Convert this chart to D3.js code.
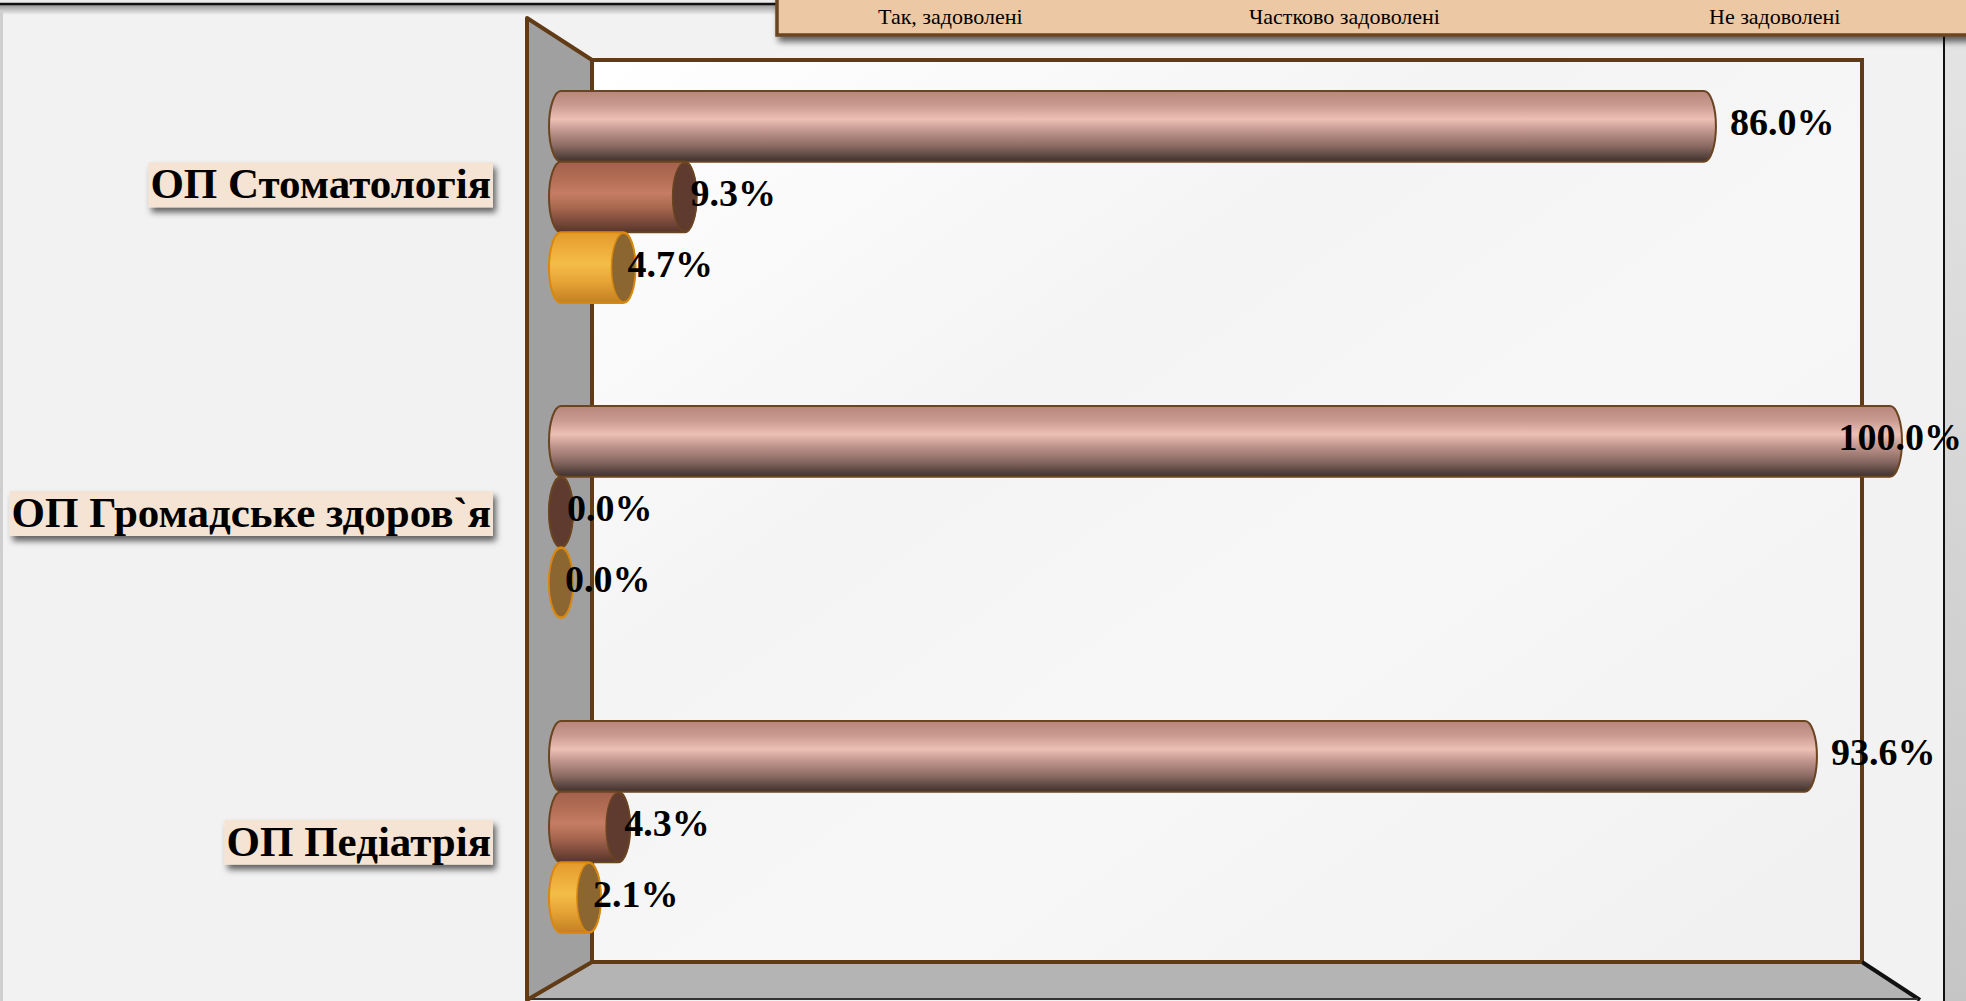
<!DOCTYPE html>
<html>
<head>
<meta charset="utf-8">
<script src="https://cdn.jsdelivr.net/npm/d3@7"></script>
<style>
  body { margin: 0; background: #f2f2f2; overflow: hidden; }
</style>
</head>
<body>
<div id="chart"></div>
<script>
// data
const categories = ["ОП Стоматологія", "ОП Громадське здоров`я", "ОП Педіатрія"];
const seriesNames = ["Так, задоволені", "Частково задоволені", "Не задоволені"];
const satisfied = [86.0, 100.0, 93.6];
const partly = [9.3, 0.0, 4.3];
const notSatisfied = [4.7, 0.0, 2.1];

const rows = categories.map((c, i) => ({cat: c, values: [satisfied[i], partly[i], notSatisfied[i]]}));

// constants
const width = 1966;
const height = 1001;
const font = "'Liberation Serif', 'Times New Roman', serif";

const svg = d3.select("#chart").append("svg")
  .attr("width", width)
  .attr("height", height);

const defs = svg.append("defs");

// cylinder gradients (top -> bottom)
const gradStops = [
  [["0%", "#b7867c"], ["20%", "#c89a90"], ["40%", "#edc0b5"], ["55%", "#c49990"], ["78%", "#8a6a63"], ["100%", "#3f302c"]],
  [["0%", "#a2604c"], ["25%", "#b46e57"], ["45%", "#c57d64"], ["65%", "#a8674f"], ["85%", "#7a4a3b"], ["100%", "#55352b"]],
  [["0%", "#e39a2c"], ["25%", "#eeae3a"], ["45%", "#f4bd48"], ["70%", "#e6a436"], ["100%", "#c27f22"]]
];
gradStops.forEach((stops, i) => {
  const g = defs.append("linearGradient").attr("id", "cyl" + i)
    .attr("x1", 0).attr("y1", 0).attr("x2", 0).attr("y2", 1);
  stops.forEach(s => g.append("stop").attr("offset", s[0]).attr("stop-color", s[1]));
});
const faceFill = [null, "#5e3a2f", "#8c6631"];
const strokeCol = ["#6b4420", "#6b4420", "#d8880f"];

const wallGrad = defs.append("linearGradient").attr("id", "wall")
  .attr("x1", 0).attr("y1", 0).attr("x2", 1).attr("y2", 1);
wallGrad.append("stop").attr("offset", "0%").attr("stop-color", "#ffffff");
wallGrad.append("stop").attr("offset", "35%").attr("stop-color", "#f4f4f4");
wallGrad.append("stop").attr("offset", "60%").attr("stop-color", "#f7f7f7");
wallGrad.append("stop").attr("offset", "100%").attr("stop-color", "#f0f0f0");

const rightGrad = defs.append("linearGradient").attr("id", "rightPanel")
  .attr("x1", 0).attr("y1", 0).attr("x2", 0).attr("y2", 1);
rightGrad.append("stop").attr("offset", "0%").attr("stop-color", "#e4e4e4");
rightGrad.append("stop").attr("offset", "100%").attr("stop-color", "#c4c4c4");

const topShadow = defs.append("linearGradient").attr("id", "topShadow")
  .attr("x1", 0).attr("y1", 0).attr("x2", 0).attr("y2", 1);
topShadow.append("stop").attr("offset", "0%").attr("stop-color", "#9a9a9a");
topShadow.append("stop").attr("offset", "100%").attr("stop-color", "#f2f2f2");

const shadow = defs.append("filter").attr("id", "shadow")
  .attr("x", "-10%").attr("y", "-30%").attr("width", "130%").attr("height", "180%");
shadow.append("feDropShadow").attr("dx", 3).attr("dy", 5).attr("stdDeviation", 3)
  .attr("flood-color", "#000").attr("flood-opacity", 0.6);

// slide background pieces
svg.append("rect").attr("width", width).attr("height", height).attr("fill", "#f2f2f2");
svg.append("rect").attr("x", 0).attr("y", 0).attr("width", 780).attr("height", 3).attr("fill", "#ececec");
svg.append("rect").attr("x", 0).attr("y", 5).attr("width", 780).attr("height", 10).attr("fill", "url(#topShadow)");
svg.append("line").attr("x1", 0).attr("x2", 780).attr("y1", 4).attr("y2", 4)
  .attr("stroke", "#111").attr("stroke-width", 2.5);
svg.append("rect").attr("x", 0).attr("y", 12).attr("width", 3).attr("height", height).attr("fill", "#cfcfcf");
svg.append("rect").attr("x", 1945).attr("y", 35).attr("width", 21).attr("height", height).attr("fill", "url(#rightPanel)");
svg.append("line").attr("x1", 1944).attr("x2", 1944).attr("y1", 35).attr("y2", height)
  .attr("stroke", "#111").attr("stroke-width", 2);

// title / legend box (cut by the top edge)
svg.append("rect").attr("x", 777).attr("y", -40).attr("width", 1240).attr("height", 75)
  .attr("fill", "#ecc8a5").attr("stroke", "#6b4420").attr("stroke-width", 3.5)
  .attr("filter", "url(#shadow)");
const legendX = [878, 1249, 1709];
svg.selectAll(".legend").data(seriesNames).enter().append("text")
  .attr("x", (d, i) => legendX[i]).attr("y", 24)
  .attr("font-family", font).attr("font-size", 22)
  .text(d => d);

// 3D frame
const wallL = 592, wallR = 1862, wallT = 60, wallB = 962;
const sideX = 527, sideT = 18, sideB = 1000;
const brown = "#603b16";

svg.append("rect").attr("x", wallL).attr("y", wallT).attr("width", wallR - wallL).attr("height", wallB - wallT)
  .attr("fill", "url(#wall)").attr("stroke", brown).attr("stroke-width", 4);
svg.append("polygon")
  .attr("points", [[wallL, wallB], [wallR, wallB], [1918, sideB], [sideX, sideB]].join(" "))
  .attr("fill", "#b4b4b4");
svg.append("line").attr("x1", wallR).attr("y1", wallB).attr("x2", 1920).attr("y2", sideB)
  .attr("stroke", "#111").attr("stroke-width", 4);
svg.append("line").attr("x1", wallL).attr("y1", wallB).attr("x2", wallR).attr("y2", wallB)
  .attr("stroke", brown).attr("stroke-width", 4);
svg.append("line").attr("x1", sideX).attr("y1", sideB - 1).attr("x2", 1918).attr("y2", sideB - 1)
  .attr("stroke", "#333").attr("stroke-width", 2);
svg.append("polygon")
  .attr("points", [[sideX, sideT], [wallL, wallT], [wallL, wallB], [sideX, sideB]].join(" "))
  .attr("fill", "#a0a0a0").attr("stroke", brown).attr("stroke-width", 4).attr("stroke-linejoin", "round");

// scales
const x = d3.scaleLinear().domain([0, 100]).range([561, 1890]);
const yGroup = d3.scaleBand().domain(categories).range([39.5, 984.5]);
const ySeries = d3.scaleBand().domain([0, 1, 2]).range([0, 212]);
const yLabel = d3.scaleBand().domain(categories).range([20, 1006]);
const groupOff = (yGroup.bandwidth() - 212) / 2;
const rx = 12;

// bars
const bars = [];
rows.forEach(r => r.values.forEach((v, s) => bars.push({cat: r.cat, s: s, v: v})));

const g = svg.append("g");
const barG = g.selectAll(".bar").data(bars).enter().append("g");

barG.append("rect")
  .attr("x", d => x(0) - rx)
  .attr("y", d => yGroup(d.cat) + groupOff + ySeries(d.s))
  .attr("width", d => x(d.v) - x(0) + 2 * rx)
  .attr("height", ySeries.bandwidth())
  .attr("rx", rx)
  .attr("ry", ySeries.bandwidth() / 2)
  .attr("fill", d => `url(#cyl${d.s})`)
  .attr("stroke", d => strokeCol[d.s])
  .attr("stroke-width", 2);

barG.filter(d => d.s > 0).append("ellipse")
  .attr("cx", d => x(d.v))
  .attr("cy", d => yGroup(d.cat) + groupOff + ySeries(d.s) + ySeries.bandwidth() / 2)
  .attr("rx", rx)
  .attr("ry", ySeries.bandwidth() / 2 - 1)
  .attr("fill", d => faceFill[d.s])
  .attr("stroke", d => strokeCol[d.s])
  .attr("stroke-width", 1.5);

// value labels
const labelOff = [26, 6, 4];
g.selectAll(".val").data(bars).enter().append("text")
  .attr("font-family", font).attr("font-weight", "bold").attr("font-size", 38)
  .attr("y", d => yGroup(d.cat) + groupOff + ySeries(d.s) + ySeries.bandwidth() / 2 + 9)
  .text(d => d.v.toFixed(1) + "%")
  .attr("x", function(d) {
    const w = this.getComputedTextLength();
    return Math.min(x(d.v) + labelOff[d.s], 1962 - w);
  });

// category labels
const catG = svg.selectAll(".cat").data(categories).enter().append("g");
const catText = catG.append("text")
  .attr("x", 491)
  .attr("y", d => yLabel(d) + yLabel.bandwidth() / 2 + 14)
  .attr("text-anchor", "end")
  .attr("font-family", font).attr("font-weight", "bold").attr("font-size", 43)
  .text(d => d);
catText.each(function() {
  const b = this.getBBox();
  d3.select(this.parentNode).insert("rect", "text")
    .attr("x", b.x - 2).attr("y", b.y + 2)
    .attr("width", b.width + 4).attr("height", b.height - 2)
    .attr("fill", "#f5e3d3")
    .attr("filter", "url(#shadow)");
});
</script>
</body>
</html>
